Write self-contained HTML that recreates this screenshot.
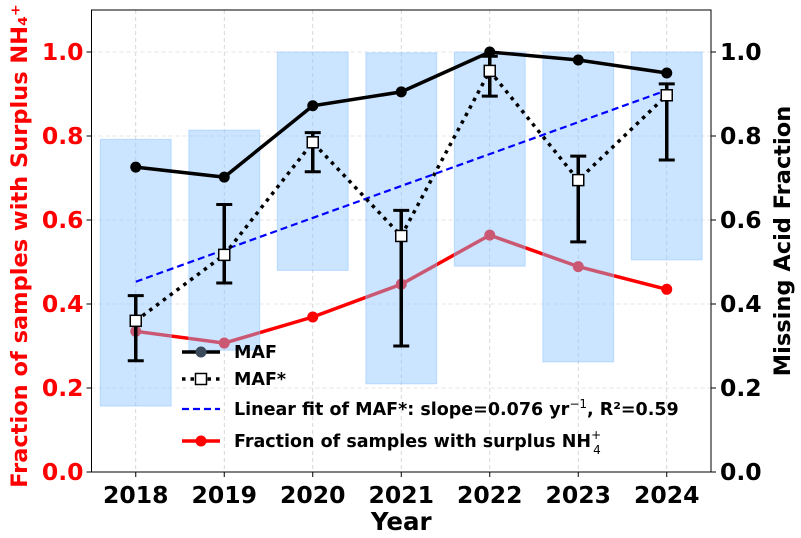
<!DOCTYPE html>
<html><head><meta charset="utf-8"><style>
html,body{margin:0;padding:0;background:#fff;}
svg{display:block;font-family:"DejaVu Sans","Liberation Sans",sans-serif;font-weight:bold;}
</style></head><body>
<svg id="chart" width="801" height="538" viewBox="0 0 801 538" xmlns="http://www.w3.org/2000/svg"></svg>
<script>
const years = [2018, 2019, 2020, 2021, 2022, 2023, 2024];
const mafValues = [0.726, 0.702, 0.872, 0.905, 1.0, 0.981, 0.950];
const mafStarValues = [0.360, 0.517, 0.785, 0.562, 0.955, 0.695, 0.897];
const mafStarLow = [0.265, 0.450, 0.715, 0.300, 0.895, 0.548, 0.743];
const mafStarHigh = [0.420, 0.637, 0.808, 0.623, 0.990, 0.752, 0.924];
const fitStart = 0.453;
const fitSlope = 0.076;
const surplusValues = [0.335, 0.307, 0.369, 0.447, 0.564, 0.489, 0.435];
const rangeLow = [0.157, 0.290, 0.480, 0.210, 0.490, 0.262, 0.505];
const rangeHigh = [0.792, 0.814, 1.000, 0.998, 1.000, 1.000, 1.000];
const yTicks = [0.0, 0.2, 0.4, 0.6, 0.8, 1.0];

const L=91.5, R=711, T=10, B=472;
const xs = v => L + (v - 2017.5) / 7 * (R - L);
const ys = v => B - v / 1.1 * (B - T);
const svg = document.getElementById('chart');
const NS = 'http://www.w3.org/2000/svg';
function mk(tag, attrs, parent, name, text){
  const e = document.createElementNS(NS, tag);
  for (const k in attrs) e.setAttribute(k, attrs[k]);
  
  
  if (text !== undefined) e.textContent = text;
  (parent || svg).appendChild(e);
  return e;
}
years.forEach(y => mk('line',{x1:xs(y),x2:xs(y),y1:T,y2:B,stroke:'#ccc','stroke-dasharray':'4,3','stroke-width':0.8},svg,'x-gridline'));
yTicks.forEach(t => mk('line',{x1:L,x2:R,y1:ys(t),y2:ys(t),stroke:'#ddd','stroke-dasharray':'4,3','stroke-width':0.8},svg,'y-gridline'));
const pts = a => a.map((v,i)=>xs(years[i])+','+ys(v)).join(' ');
mk('polyline',{points:pts(surplusValues),fill:'none',stroke:'#ff0000','stroke-width':3.5},svg,'surplus-line');
surplusValues.forEach((v,i)=>mk('circle',{cx:xs(years[i]),cy:ys(v),r:5.5,fill:'#ff0000'},svg,'surplus-point'));
const bw = 0.8/7*(R-L);
years.forEach((y,i)=>mk('rect',{x:xs(y)-bw/2,y:ys(rangeHigh[i]),width:bw,height:ys(rangeLow[i])-ys(rangeHigh[i]),fill:'rgba(140,195,255,0.45)',stroke:'rgba(140,195,255,0.5)','stroke-width':1},svg,'range-bar-'+y));
mk('line',{x1:xs(2018),y1:ys(fitStart),x2:xs(2024),y2:ys(fitStart+fitSlope*6),stroke:'#0000ff','stroke-width':2.2,'stroke-dasharray':'7,4'},svg,'linear-fit-line');
mk('polyline',{points:pts(mafValues),fill:'none',stroke:'#000','stroke-width':3.5},svg,'maf-line');
mafValues.forEach((v,i)=>mk('circle',{cx:xs(years[i]),cy:ys(v),r:5.5,fill:'#000'},svg,'maf-point'));
mk('polyline',{points:pts(mafStarValues),fill:'none',stroke:'#000','stroke-width':3.5,'stroke-dasharray':'3.5,5'},svg,'maf-star-line');
years.forEach((y,i)=>{
  const x=xs(y);
  mk('line',{x1:x,x2:x,y1:ys(mafStarLow[i]),y2:ys(mafStarHigh[i]),stroke:'#000','stroke-width':3.5},svg,'error-bar');
  mk('line',{x1:x-8,x2:x+8,y1:ys(mafStarLow[i]),y2:ys(mafStarLow[i]),stroke:'#000','stroke-width':3},svg,'error-cap');
  mk('line',{x1:x-8,x2:x+8,y1:ys(mafStarHigh[i]),y2:ys(mafStarHigh[i]),stroke:'#000','stroke-width':3},svg,'error-cap');
  mk('rect',{x:x-5.5,y:ys(mafStarValues[i])-5.5,width:11,height:11,fill:'#fff',stroke:'#000','stroke-width':1.5},svg,'maf-star-point');
});
mk('rect',{x:L,y:T,width:R-L,height:B-T,fill:'none',stroke:'#000','stroke-width':1},svg,'plot-frame');
yTicks.forEach(t=>{
  const y=ys(t);
  mk('line',{x1:L-5,x2:L,y1:y,y2:y,stroke:'#000'},svg,'left-tick');
  mk('text',{x:L-8,y:y+8,'text-anchor':'end','font-size':23.5,fill:'#ff0000'},svg,'left-tick-label',t.toFixed(1));
  mk('line',{x1:R,x2:R+5,y1:y,y2:y,stroke:'#000'},svg,'right-tick');
  mk('text',{x:R+9,y:y+8,'text-anchor':'start','font-size':23.5,fill:'#000'},svg,'right-tick-label',t.toFixed(1));
});
years.forEach(y=>{
  mk('line',{x1:xs(y),x2:xs(y),y1:B,y2:B+5,stroke:'#000'},svg,'x-tick');
  mk('text',{x:xs(y),y:B+31,'text-anchor':'middle','font-size':23.5},svg,'x-tick-label',String(y));
});
mk('text',{x:(L+R)/2,y:530,'text-anchor':'middle','font-size':24.5},svg,'x-axis-title','Year');
mk('text',{x:0,y:0,'text-anchor':'middle','font-size':22.5,fill:'#ff0000',transform:'translate(27,246) rotate(-90)'},svg,'left-axis-title','Fraction of samples with Surplus NH\u2084\u207A');
mk('text',{x:0,y:0,'text-anchor':'middle','font-size':22.5,transform:'translate(790,241) rotate(-90)'},svg,'right-axis-title','Missing Acid Fraction');
const lg = mk('g',{},svg,'legend');
const lx=182, lt=[352,379,409,441];
mk('line',{x1:lx,x2:lx+38,y1:lt[0],y2:lt[0],stroke:'#000','stroke-width':3.5},lg,'legend-maf-line');
mk('circle',{cx:lx+19,cy:lt[0],r:5.5,fill:'#3a4a5a'},lg,'legend-maf-marker');
mk('line',{x1:lx,x2:lx+38,y1:lt[1],y2:lt[1],stroke:'#000','stroke-width':3.5,'stroke-dasharray':'3.5,5'},lg,'legend-mafstar-line');
mk('rect',{x:lx+13.5,y:lt[1]-5.5,width:11,height:11,fill:'#fff',stroke:'#000','stroke-width':1.5},lg,'legend-mafstar-marker');
mk('line',{x1:lx,x2:lx+38,y1:lt[2],y2:lt[2],stroke:'#0000ff','stroke-width':2.2,'stroke-dasharray':'7,4'},lg,'legend-fit-line');
mk('line',{x1:lx,x2:lx+38,y1:lt[3],y2:lt[3],stroke:'#ff0000','stroke-width':3.5},lg,'legend-surplus-line');
mk('circle',{cx:lx+19,cy:lt[3],r:5.5,fill:'#ff0000'},lg,'legend-surplus-marker');
mk('text',{x:234,y:lt[0]+6,'font-size':17.5},lg,'legend-maf-label','MAF');
mk('text',{x:234,y:lt[1]+6,'font-size':17.5},lg,'legend-mafstar-label','MAF*');
const t3=mk('text',{x:234,y:lt[2]+6,'font-size':17.5},lg,'legend-fit-label','Linear fit of MAF*: slope=0.076 yr');
mk('tspan',{dy:-7,'font-size':12,'font-weight':'normal'},t3,'legend-fit-exponent','\u22121');
mk('tspan',{dy:7},t3,'legend-fit-r2',', R\u00B2=0.59');
const t4=mk('text',{x:234,y:lt[3]+6,'font-size':17.5},lg,'legend-surplus-label','Fraction of samples with surplus NH');
mk('tspan',{dy:-8,'font-size':12,'font-weight':'normal'},t4,'legend-surplus-sup','+');
mk('tspan',{dx:-8,dy:15,'font-size':12,'font-weight':'normal'},t4,'legend-surplus-sub','4');
</script>
</body></html>
